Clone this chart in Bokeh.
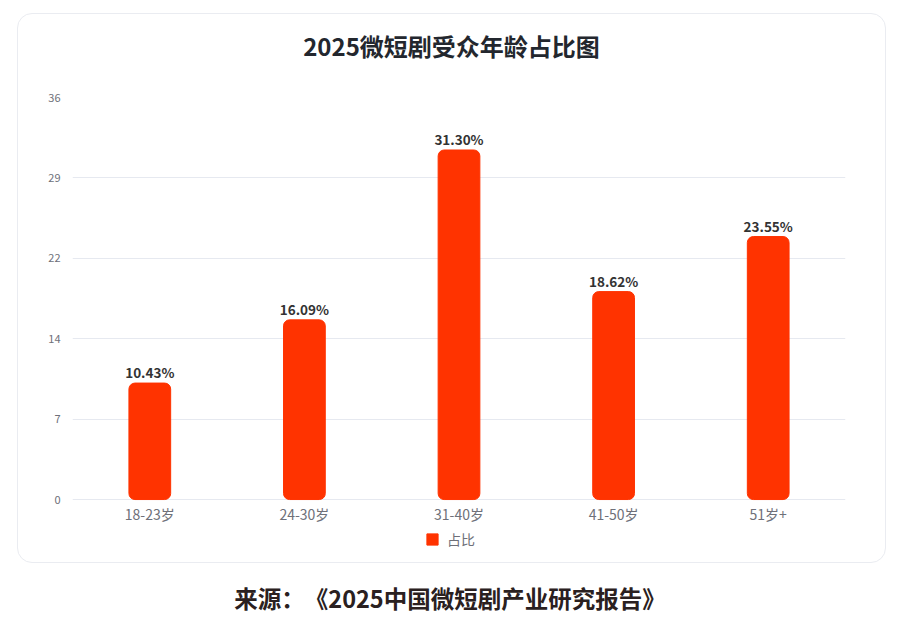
from bokeh.plotting import figure
from bokeh.models import (ColumnDataSource, FixedTicker, Legend, LegendItem,
                          Div, Column)
from bokeh.embed import file_html
from bokeh.resources import INLINE
from bokeh.core.properties import value

categories = ["18-23岁", "24-30岁", "31-40岁", "41-50岁", "51岁+"]
shares = [10.43, 16.09, 31.30, 18.62, 23.55]
share_labels = ["10.43%", "16.09%", "31.30%", "18.62%", "23.55%"]
y_ticks = [0, 7.2, 14.4, 21.6, 28.8, 36]
y_tick_labels = ["0", "7", "14", "22", "29", "36"]
title_text = "2025微短剧受众年龄占比图"
source_text = "来源：《2025中国微短剧产业研究报告》"
series_name = "占比"

FONT = "Noto Sans CJK SC"
BAR = "#ff3300"

src = ColumnDataSource(dict(cat=categories, val=shares, lab=share_labels))

title_div = Div(text=title_text, width=867, height=64, margin=(0, 0, 0, 0),
                styles={"text-align": "center", "font-family": FONT,
                        "font-size": "24px", "line-height": "64px",
                        "font-weight": "bold", "color": "#23272e",
                        "width": "867px"})

# frame bottom extends below zero to hold the axis labels and legend
p = figure(width=867, height=484, x_range=categories, y_range=(-5.1, 36),
           output_backend="svg", toolbar_location=None,
           min_border_left=54, min_border_right=40, min_border_top=19,
           min_border_bottom=6, margin=(0, 0, 0, 0))
p.background_fill_color = None
p.border_fill_color = None
p.outline_line_color = None

r = p.vbar(x="cat", top="val", width=0.27, source=src, color=BAR,
           border_radius=6)

p.text(x="cat", y="val", text="lab", source=src, text_align="center",
       text_baseline="bottom", y_offset=-1, text_font=value(FONT),
       text_font_size="13.5px", text_font_style="bold", text_color="#333333")

p.yaxis.ticker = FixedTicker(ticks=y_ticks)
p.yaxis.major_label_overrides = {t: l for t, l in zip(y_ticks, y_tick_labels)}
p.xaxis.fixed_location = 0
for ax in (p.xaxis, p.yaxis):
    ax.axis_line_color = None
    ax.major_tick_line_color = None
    ax.minor_tick_line_color = None
    ax.major_label_text_font = FONT
    ax.major_label_text_color = "#6e7079"
p.yaxis.major_label_text_font_size = "11px"
p.xaxis.major_label_text_font_size = "14px"
p.yaxis.major_label_standoff = 6
p.xaxis.major_label_standoff = -2

p.xgrid.grid_line_color = None
p.ygrid.grid_line_color = "#e6e9f0"
p.ygrid.grid_line_width = 1

legend = Legend(items=[LegendItem(label=series_name, renderers=[r])],
                orientation="horizontal", location=(353, 7),
                border_line_color=None, background_fill_alpha=0,
                glyph_width=14, glyph_height=14, label_standoff=8,
                label_text_font=FONT, label_text_font_size="14px",
                label_text_color="#6e7079", margin=0, padding=4)
p.add_layout(legend)

card = Column(children=[title_div, p], width=867, height=548,
              margin=(14, 0, 0, 18),
              styles={"outline": "1px solid #eaecf1", "outline-offset": "0px",
                      "border-radius": "14px", "background": "#ffffff"})

footer = Div(text=source_text, width=900, height=36, margin=(24, 0, 0, 0),
             styles={"text-align": "center", "font-family": FONT,
                     "font-size": "23.5px", "line-height": "24px",
                     "font-weight": "bold", "color": "#2a2020",
                     "text-spacing-trim": "space-all",
                     "width": "900px"})

layout = Column(children=[card, footer], width=900, height=624)

open("out.html", "w").write(file_html(layout, INLINE))
